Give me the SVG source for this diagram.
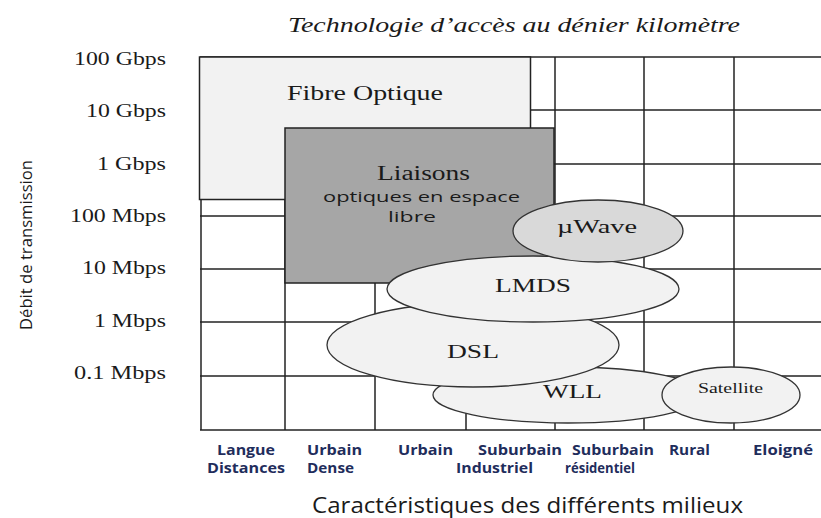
<svg xmlns="http://www.w3.org/2000/svg" width="821" height="518" viewBox="0 0 821 518">
<style>
.grid line{stroke:#222;stroke-width:1.5}
.box{stroke:#222;stroke-width:1.5}
.ell{stroke:#333;stroke-width:1.3}
.serif{font-family:"Liberation Serif","Times New Roman",serif;fill:#1a1a1a}
.sans{font-family:"Open Sans","DejaVu Sans",sans-serif;fill:#1a1a1a}
.ylab{font-family:"Liberation Serif","Times New Roman",serif;font-size:18px;fill:#1a1a1a;text-anchor:end}
.xlab{font-family:"Open Sans","DejaVu Sans",sans-serif;font-size:13.5px;font-weight:bold;fill:#1f2d5c}
</style>
<rect width="821" height="518" fill="#fff"/>
<text class="serif" x="288" y="32" font-size="20" font-style="italic" textLength="452" lengthAdjust="spacingAndGlyphs">Technologie d’accès au dénier kilomètre</text>
<g id="grid" class="grid">
<line x1="200" y1="57" x2="821" y2="57"/>
<line x1="200" y1="110" x2="821" y2="110"/>
<line x1="200" y1="164" x2="821" y2="164"/>
<line x1="200" y1="216" x2="821" y2="216"/>
<line x1="200" y1="269" x2="821" y2="269"/>
<line x1="200" y1="322" x2="821" y2="322"/>
<line x1="200" y1="376" x2="821" y2="376"/>
<line x1="200" y1="430" x2="821" y2="430"/>
<line x1="201" y1="57" x2="201" y2="430"/>
<line x1="285" y1="57" x2="285" y2="430"/>
<line x1="375" y1="57" x2="375" y2="430"/>
<line x1="466" y1="57" x2="466" y2="430"/>
<line x1="555" y1="57" x2="555" y2="430"/>
<line x1="644" y1="57" x2="644" y2="430"/>
<line x1="734" y1="57" x2="734" y2="430"/>
</g>
<g id="axis-y">
<text class="ylab" x="166" y="65" textLength="92" lengthAdjust="spacingAndGlyphs">100 Gbps</text>
<text class="ylab" x="166" y="117" textLength="80" lengthAdjust="spacingAndGlyphs">10 Gbps</text>
<text class="ylab" x="166" y="170" textLength="69" lengthAdjust="spacingAndGlyphs">1 Gbps</text>
<text class="ylab" x="166" y="222" textLength="96" lengthAdjust="spacingAndGlyphs">100 Mbps</text>
<text class="ylab" x="166" y="274" textLength="84" lengthAdjust="spacingAndGlyphs">10 Mbps</text>
<text class="ylab" x="166" y="327" textLength="72" lengthAdjust="spacingAndGlyphs">1 Mbps</text>
<text class="ylab" x="166" y="379" textLength="92" lengthAdjust="spacingAndGlyphs">0.1 Mbps</text>
<text class="sans" transform="translate(32,330) rotate(-90)" font-size="17" textLength="170" lengthAdjust="spacingAndGlyphs">Débit de transmission</text>
</g>
<g id="fibre">
<rect class="box" x="199.5" y="57" width="331" height="142.5" fill="#f2f2f2"/>
<text class="serif" x="287" y="100" font-size="20" textLength="156" lengthAdjust="spacingAndGlyphs">Fibre Optique</text>
</g>
<g id="liaisons">
<rect class="box" x="285" y="128" width="269" height="155" fill="#a6a6a6"/>
<text class="serif" x="377" y="180" font-size="20" textLength="93" lengthAdjust="spacingAndGlyphs">Liaisons</text>
<text class="sans" x="323" y="202" font-size="14" textLength="197" lengthAdjust="spacingAndGlyphs">optiques en espace</text>
<text class="sans" x="388" y="222" font-size="14" textLength="48" lengthAdjust="spacingAndGlyphs">libre</text>
</g>
<g id="wll">
<ellipse class="ell" cx="568" cy="395" rx="135" ry="28" fill="#f2f2f2"/>
<text class="serif" x="543" y="398" font-size="19" textLength="59" lengthAdjust="spacingAndGlyphs">WLL</text>
</g>
<g id="dsl">
<ellipse class="ell" cx="473" cy="345" rx="146" ry="42" fill="#f2f2f2"/>
<text class="serif" x="447" y="358" font-size="19" textLength="52" lengthAdjust="spacingAndGlyphs">DSL</text>
</g>
<g id="lmds">
<ellipse class="ell" cx="533" cy="289" rx="146" ry="33" fill="#f2f2f2"/>
<text class="serif" x="495" y="292" font-size="19" textLength="76" lengthAdjust="spacingAndGlyphs">LMDS</text>
</g>
<g id="uwave">
<ellipse class="ell" cx="598" cy="231" rx="85" ry="31" fill="#d9d9d9"/>
<text class="serif" x="557" y="233" font-size="18" textLength="80" lengthAdjust="spacingAndGlyphs">µWave</text>
</g>
<g id="satellite">
<ellipse class="ell" cx="731" cy="395" rx="69" ry="28" fill="#f2f2f2"/>
<text class="serif" x="698" y="393" font-size="15" textLength="65" lengthAdjust="spacingAndGlyphs">Satellite</text>
</g>
<g id="connectors"/>
<g id="axis-x">
<text class="xlab" x="217" y="455" textLength="58" lengthAdjust="spacingAndGlyphs">Langue</text>
<text class="xlab" x="207" y="473" textLength="78" lengthAdjust="spacingAndGlyphs">Distances</text>
<text class="xlab" x="307" y="455" textLength="55" lengthAdjust="spacingAndGlyphs">Urbain</text>
<text class="xlab" x="307" y="473" textLength="47" lengthAdjust="spacingAndGlyphs">Dense</text>
<text class="xlab" x="398" y="455" textLength="55" lengthAdjust="spacingAndGlyphs">Urbain</text>
<text class="xlab" x="478" y="455" textLength="84" lengthAdjust="spacingAndGlyphs">Suburbain</text>
<text class="xlab" x="456" y="473" textLength="77" lengthAdjust="spacingAndGlyphs">Industriel</text>
<text class="xlab" x="572" y="455" textLength="82" lengthAdjust="spacingAndGlyphs">Suburbain</text>
<text class="xlab" x="565" y="473" textLength="70" lengthAdjust="spacingAndGlyphs">r&#233;sidentiel</text>
<text class="xlab" x="669" y="455" textLength="41" lengthAdjust="spacingAndGlyphs">Rural</text>
<text class="xlab" x="753" y="455" textLength="60" lengthAdjust="spacingAndGlyphs">Eloign&#233;</text>
<text class="sans" x="312" y="513" font-size="21" fill="#262626" textLength="431" lengthAdjust="spacingAndGlyphs">Caractéristiques des différents milieux</text>
</g>
</svg>
